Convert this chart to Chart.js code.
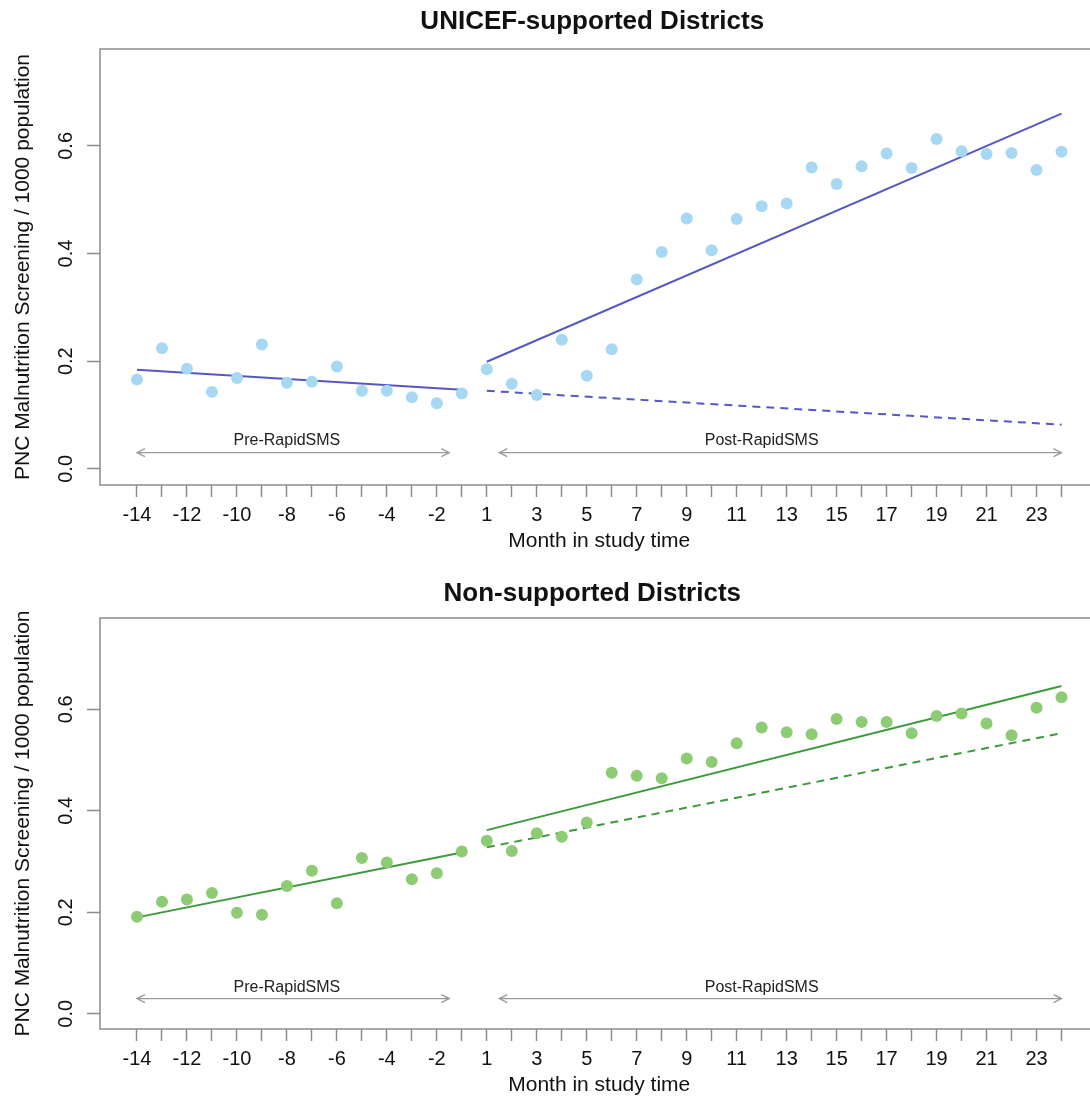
<!DOCTYPE html>
<html>
<head>
<meta charset="utf-8">
<script src="https://cdn.jsdelivr.net/npm/chart.js@4.4.1/dist/chart.umd.min.js"></script>
<style>
  html, body { margin: 0; padding: 0; background: #fff; width: 1090px; height: 1102px; overflow: hidden; }
  .panel { position: absolute; left: 0; }
  #top { top: 0; }
  #bottom { top: 560px; }
</style>
</head>
<body>
<div class="panel" id="top"><canvas id="unicefChart" width="1110" height="560"></canvas></div>
<div class="panel" id="bottom"><canvas id="nonChart" width="1110" height="544"></canvas></div>
<script>
// mois de l'étude (pas de mois 0)
const months = [-14, -13, -12, -11, -10, -9, -8, -7, -6, -5, -4, -3, -2, -1,
  1, 2, 3, 4, 5, 6, 7, 8, 9, 10, 11, 12, 13, 14, 15, 16, 17, 18, 19, 20, 21, 22, 23, 24];

// taux observés - districts soutenus par l'UNICEF
const unicefRates = [0.166, 0.224, 0.186, 0.143, 0.169, 0.231, 0.160, 0.162, 0.190, 0.145, 0.145, 0.133, 0.122, 0.140,
  0.185, 0.158, 0.137, 0.240, 0.173, 0.222, 0.352, 0.403, 0.465, 0.406, 0.464, 0.488, 0.493, 0.560, 0.529, 0.562,
  0.586, 0.559, 0.613, 0.590, 0.585, 0.587, 0.555, 0.589];

// taux observés - districts non soutenus
const nonRates = [0.191, 0.221, 0.225, 0.238, 0.199, 0.195, 0.252, 0.282, 0.218, 0.307, 0.298, 0.265, 0.277, 0.320,
  0.341, 0.321, 0.356, 0.349, 0.377, 0.475, 0.469, 0.464, 0.503, 0.496, 0.533, 0.564, 0.555, 0.551, 0.581, 0.575,
  0.575, 0.553, 0.587, 0.592, 0.572, 0.549, 0.603, 0.624];

// droites de régression (début, fin)
const unicefPreFit = [0.184, 0.147];
const unicefPostFit = [0.199, 0.660];
const unicefCounterfactual = [0.145, 0.082];
const nonPreFit = [0.190, 0.318];
const nonPostFit = [0.362, 0.646];
const nonCounterfactual = [0.328, 0.553];

const yTicks = [0, 0.2, 0.4, 0.6];

// flèches des périodes (en index de mois)
const periodLabels = ['Pre-RapidSMS', 'Post-RapidSMS'];
const periodFrom = [0, 14.5];
const periodTo = [12.5, 37];
const periodLabelAt = [6, 25];
const arrowLevel = 0.03;
const labelLevel = 0.052;

const FONT = '"Liberation Sans", Arial, Helvetica, sans-serif';
const AXIS_GREY = '#8c8c8c';
const TEXT = '#111';

function toPoints(values) {
  return values.map((v, i) => ({ x: i, y: v }));
}

function fitLine(values, fromMonth, toMonth) {
  return [
    { x: months.indexOf(fromMonth), y: values[0] },
    { x: months.indexOf(toMonth), y: values[1] },
  ];
}

// titre, cadre et flèches
const panelDecor = {
  id: 'panelDecor',
  afterDraw(chart, args, opts) {
    const { ctx, chartArea: a, scales: { x, y } } = chart;
    ctx.save();
    ctx.strokeStyle = AXIS_GREY;
    ctx.lineWidth = 1.5;
    ctx.strokeRect(a.left, a.top, a.right - a.left, a.bottom - a.top);

    ctx.fillStyle = TEXT;
    ctx.font = 'bold 26px ' + FONT;
    ctx.textAlign = 'center';
    ctx.textBaseline = 'middle';
    ctx.fillText(opts.title, (a.left + a.right) / 2 - 7, a.top - opts.titleGap);

    ctx.strokeStyle = '#9a9a9a';
    ctx.lineWidth = 1.3;
    ctx.font = '16px ' + FONT;
    ctx.fillStyle = '#222';
    periodLabels.forEach((label, k) => {
      const x0 = x.getPixelForValue(periodFrom[k]);
      const x1 = x.getPixelForValue(periodTo[k]);
      const yy = y.getPixelForValue(arrowLevel);
      ctx.beginPath();
      ctx.moveTo(x0, yy);
      ctx.lineTo(x1, yy);
      // pointes
      ctx.moveTo(x0 + 8, yy - 4);
      ctx.lineTo(x0, yy);
      ctx.lineTo(x0 + 8, yy + 4);
      ctx.moveTo(x1 - 8, yy - 4);
      ctx.lineTo(x1, yy);
      ctx.lineTo(x1 - 8, yy + 4);
      ctx.stroke();
      ctx.fillText(label, x.getPixelForValue(periodLabelAt[k]), y.getPixelForValue(labelLevel));
    });
    ctx.restore();
  },
};

function makeChart(canvasId, cfg) {
  return new Chart(document.getElementById(canvasId), {
    type: 'scatter',
    data: {
      datasets: [
        {
          data: toPoints(cfg.rates),
          backgroundColor: cfg.dotColor,
          borderWidth: 0,
          pointRadius: 6,
        },
        {
          data: fitLine(cfg.preFit, -14, -1),
          showLine: true,
          borderColor: cfg.lineColor,
          borderWidth: 2,
          pointRadius: 0,
        },
        {
          data: fitLine(cfg.postFit, 1, 24),
          showLine: true,
          borderColor: cfg.lineColor,
          borderWidth: 2,
          pointRadius: 0,
        },
        {
          data: fitLine(cfg.counterfactual, 1, 24),
          showLine: true,
          borderColor: cfg.lineColor,
          borderWidth: 2,
          borderDash: [8, 6],
          pointRadius: 0,
        },
      ],
    },
    options: {
      responsive: false,
      animation: false,
      layout: { padding: { top: cfg.top, right: 11.5, left: 0, bottom: 0 } },
      plugins: {
        legend: { display: false },
        tooltip: { enabled: false },
        panelDecor: { title: cfg.title, titleGap: cfg.titleGap },
      },
      scales: {
        x: {
          type: 'linear',
          min: -1.48,
          max: 38.48,
          afterBuildTicks: (s) => { s.ticks = months.map((m, i) => ({ value: i })); },
          afterFit: (s) => { s.height = 75; },
          ticks: {
            autoSkip: false,
            minRotation: 0,
            maxRotation: 0,
            padding: 6,
            color: TEXT,
            font: { size: 20, family: FONT },
            callback: (v, i) => (i % 2 === 0 ? String(months[i]) : ''),
          },
          grid: { display: true, drawOnChartArea: false, drawTicks: true, tickLength: 12, tickColor: AXIS_GREY, tickWidth: 1.5 },
          border: { display: false },
          title: {
            display: true,
            text: 'Month in study time',
            color: TEXT,
            font: { size: 21, family: FONT },
            padding: { top: 0, bottom: 6 },
          },
        },
        y: {
          min: -0.03,
          max: 0.78,
          afterBuildTicks: (s) => { s.ticks = yTicks.map((v) => ({ value: v })); },
          afterFit: (s) => { s.width = 100; },
          ticks: {
            minRotation: 90,
            maxRotation: 90,
            crossAlign: 'center',
            padding: 7,
            color: TEXT,
            font: { size: 20, family: FONT },
            callback: (v) => v.toFixed(1),
          },
          grid: { display: true, drawOnChartArea: false, drawTicks: true, tickLength: 13, tickColor: AXIS_GREY, tickWidth: 1.5 },
          border: { display: false },
          title: {
            display: true,
            text: 'PNC Malnutrition Screening / 1000 population',
            color: TEXT,
            font: { size: 21, family: FONT },
            padding: { top: 11, bottom: 0 },
          },
        },
      },
    },
    plugins: [panelDecor],
  });
}

makeChart('unicefChart', {
  title: 'UNICEF-supported Districts',
  top: 49,
  titleGap: 27,
  rates: unicefRates,
  preFit: unicefPreFit,
  postFit: unicefPostFit,
  counterfactual: unicefCounterfactual,
  dotColor: '#a7d8f3',
  lineColor: '#5558c4',
});

makeChart('nonChart', {
  title: 'Non-supported Districts',
  top: 58,
  titleGap: 24,
  rates: nonRates,
  preFit: nonPreFit,
  postFit: nonPostFit,
  counterfactual: nonCounterfactual,
  dotColor: '#8dcb74',
  lineColor: '#3c993c',
});
</script>
</body>
</html>
